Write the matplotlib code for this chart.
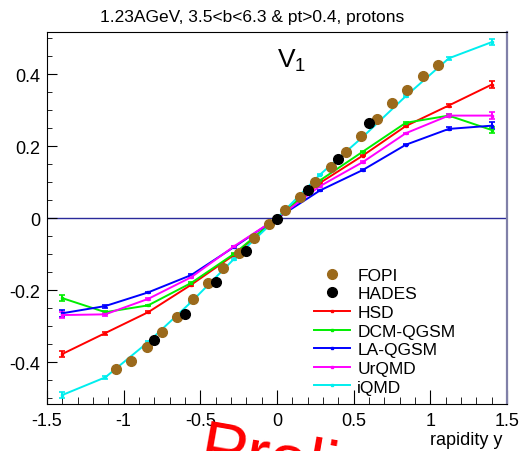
import matplotlib
matplotlib.use("Agg")
import matplotlib.pyplot as plt
from matplotlib.lines import Line2D
from matplotlib.ticker import MultipleLocator

plt.rcParams["font.family"] = ["Liberation Sans", "DejaVu Sans"]
plt.rcParams["mathtext.default"] = "regular"

TITLE = "1.23AGeV, 3.5<b<6.3 & pt>0.4, protons"

# experimental data
fopi_y_rap = [-1.05, -0.95, -0.85, -0.75, -0.65, -0.55, -0.45, -0.35, -0.25, -0.15, -0.05,
              0.05, 0.15, 0.25, 0.35, 0.45, 0.55, 0.65, 0.75, 0.85, 0.95, 1.05]
fopi_v1 = [-0.420, -0.396, -0.358, -0.317, -0.273, -0.225, -0.181, -0.139, -0.097, -0.056, -0.016,
           0.024, 0.058, 0.100, 0.142, 0.183, 0.227, 0.276, 0.319, 0.357, 0.396, 0.426]

hades_y_rap = [-0.8, -0.6, -0.4, -0.2, 0.0, 0.2, 0.4, 0.6]
hades_v1 = [-0.337, -0.265, -0.176, -0.090, -0.002, 0.079, 0.165, 0.264]

# model calculations
model_y_rap = [-1.4, -1.12, -0.84, -0.56, -0.28, 0.0, 0.28, 0.56, 0.84, 1.12, 1.4]
model_err = [0.009, 0.004, 0.002, 0.002, 0.002, 0.002, 0.002, 0.002, 0.002, 0.004, 0.009]
hsd_v1 = [-0.377, -0.319, -0.261, -0.185, -0.102, 0.0, 0.098, 0.174, 0.256, 0.313, 0.371]
dcm_v1 = [-0.222, -0.261, -0.242, -0.180, -0.099, 0.0, 0.105, 0.185, 0.265, 0.285, 0.245]
la_v1 = [-0.264, -0.244, -0.206, -0.158, -0.080, 0.0, 0.077, 0.134, 0.204, 0.248, 0.257]
urqmd_v1 = [-0.269, -0.267, -0.224, -0.164, -0.078, 0.0, 0.089, 0.156, 0.236, 0.285, 0.285]
iqmd_v1 = [-0.491, -0.442, -0.344, -0.233, -0.113, 0.0, 0.121, 0.226, 0.339, 0.444, 0.489]

models = [
    ("HSD", hsd_v1, "#ff0000"),
    ("DCM-QGSM", dcm_v1, "#00ee00"),
    ("LA-QGSM", la_v1, "#0000ff"),
    ("UrQMD", urqmd_v1, "#ff00ff"),
    ("iQMD", iqmd_v1, "#00eeee"),
]
FOPI_COLOR = "#9b6a1c"

fig = plt.figure(figsize=(5.19, 4.52), dpi=100)
ax = fig.add_axes([47 / 519, 1 - 405 / 452, 460 / 519, (405 - 32.7) / 452])

ax.axhline(0, color="#2a2a9a", lw=1.0, zorder=1)

for name, vals, col in models:
    ax.errorbar(model_y_rap, vals, yerr=model_err, color=col, lw=1.4,
                marker="s", ms=2, capsize=2.5, capthick=1.2, zorder=2)

ax.plot(fopi_y_rap, fopi_v1, "o", color=FOPI_COLOR, ms=7, zorder=3)
ax.plot(hades_y_rap, hades_v1, "o", color="black", ms=7, zorder=4)

ax.set_xlim(-1.5, 1.5)
ax.set_ylim(-0.516, 0.518)
ax.xaxis.set_minor_locator(MultipleLocator(0.1))
ax.yaxis.set_minor_locator(MultipleLocator(0.05))
ax.set_xticks([-1.5, -1, -0.5, 0, 0.5, 1, 1.5])
ax.set_xticklabels(["-1.5", "-1", "-0.5", "0", "0.5", "1", "1.5"])
ax.set_yticks([-0.4, -0.2, 0, 0.2, 0.4])
ax.set_yticklabels(["-0.4", "-0.2", "0", "0.2", "0.4"])
ax.tick_params(which="both", direction="in", top=False, right=False, labelsize=13)
ax.tick_params(axis="x", which="major", length=10, pad=6)
ax.tick_params(axis="x", which="minor", length=5)
ax.tick_params(axis="y", which="major", length=7, pad=5)
ax.tick_params(axis="y", which="minor", length=3.5)
ax.spines["right"].set_color("#8080a8")
ax.spines["right"].set_linewidth(1.6)

ax.text(0.0, 0.44, r"V$_1$", fontsize=19, ha="left", va="center")

handles = [
    Line2D([], [], ls="none", marker="o", color=FOPI_COLOR, ms=7),
    Line2D([], [], ls="none", marker="o", color="black", ms=7),
]
labels = ["FOPI", "HADES"]
for name, vals, col in models:
    handles.append(Line2D([], [], color=col, lw=1.4, marker="s", ms=2))
    labels.append(name)
ax.legend(handles, labels, loc="upper left", bbox_to_anchor=(0.565, 0.385),
          frameon=False, fontsize=12.5, labelspacing=0.2, handlelength=2.1,
          handletextpad=0.4, borderaxespad=0, numpoints=1)

fig.text(252 / 519, 1 - 17.5 / 452, TITLE, ha="center", va="center", fontsize=12.5)
fig.text(502 / 519, 1 - 441 / 452, "rapidity y", ha="right", va="center", fontsize=13)
fig.text(205 / 519, 1 - 418 / 452, "Preliminary", color="red", fontsize=50,
         rotation=-10, rotation_mode="anchor", ha="left", va="top")

fig.savefig("out.png", dpi=100)
